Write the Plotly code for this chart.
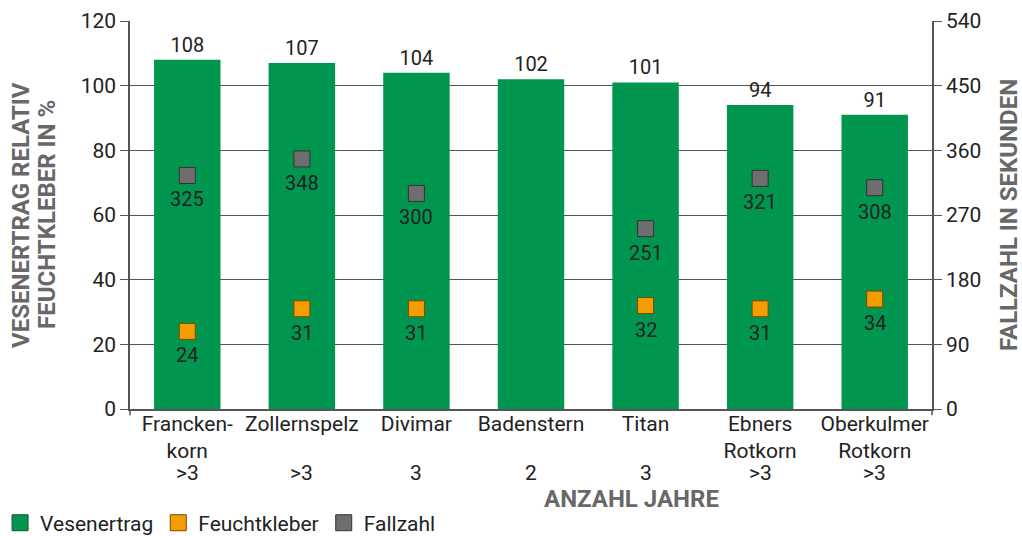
import plotly.graph_objects as go

categories = ["Francken-<br>korn", "Zollernspelz", "Divimar", "Badenstern", "Titan", "Ebners<br>Rotkorn", "Oberkulmer<br>Rotkorn"]
years = [">3", ">3", "3", "2", "3", ">3", ">3"]
vesenertrag = [108, 107, 104, 102, 101, 94, 91]
feuchtkleber = [24, 31, 31, None, 32, 31, 34]
fallzahl = [325, 348, 300, None, 251, 321, 308]

FONT = "Roboto"
TXT = "#222222"
AX = "#555555"
TITLE = "#686868"
GREEN = "#00964F"
ORANGE = "#F59C00"
GRAY = "#6E6E6E"
FS = 21
LFS = 20
TFS = 24

fig = go.Figure()
fig.add_trace(go.Bar(
    x=categories, y=vesenertrag, name="Vesenertrag", showlegend=False,
    marker=dict(color=GREEN, line=dict(width=0)),
    width=0.58,
    text=[str(v) for v in vesenertrag], textposition="outside",
    textfont=dict(size=LFS, color=TXT, family=FONT),
    cliponaxis=False,
))
fig.add_trace(go.Scatter(
    x=categories, y=feuchtkleber, name="Feuchtkleber", mode="markers", showlegend=False,
    marker=dict(symbol="square", size=16, color=ORANGE, line=dict(color="#7a4a00", width=1)),
    cliponaxis=False,
))
fig.add_trace(go.Scatter(
    x=categories, y=fallzahl, name="Fallzahl", mode="markers", yaxis="y2", showlegend=False,
    marker=dict(symbol="square", size=16, color=GRAY, line=dict(color="#333333", width=1)),
    cliponaxis=False,
))

# legend entries
for name, col, border in [("Vesenertrag", GREEN, "#1f4d2f"), ("Feuchtkleber", ORANGE, "#7a4a00"), ("Fallzahl", GRAY, "#333333")]:
    fig.add_trace(go.Scatter(
        x=[None], y=[None], mode="markers", name=name,
        marker=dict(symbol="square", size=16, color=col, line=dict(color=border, width=1)),
    ))

annotations = []
for c, v in zip(categories, feuchtkleber):
    if v is not None:
        annotations.append(dict(x=c, y=v, xref="x", yref="y", text=str(v), showarrow=False,
                                yshift=-24, font=dict(size=LFS, color=TXT, family=FONT)))
for c, v in zip(categories, fallzahl):
    if v is not None:
        annotations.append(dict(x=c, y=v, xref="x", yref="y2", text=str(v), showarrow=False,
                                yshift=-24, font=dict(size=LFS, color=TXT, family=FONT)))
# year row under category names
for c, yr in zip(categories, years):
    annotations.append(dict(x=c, y=(409 - 473) / 388, xref="x", yref="paper", text=yr,
                            showarrow=False, xanchor="center", yanchor="middle",
                            font=dict(size=FS, color=TXT, family=FONT)))

annotations += [
    dict(text="<b>ANZAHL JAHRE</b>", xref="paper", yref="paper", x=0.625, y=(409 - 499) / 388,
         xanchor="center", yanchor="middle",
         showarrow=False, font=dict(size=TFS, color=TITLE, family=FONT)),
    dict(text="<b>VESENERTRAG RELATIV</b>", xref="paper", yref="paper",
         x=(21 - 130) / 802, y=0.5, xanchor="center", yanchor="middle", textangle=-90, showarrow=False,
         font=dict(size=TFS, color=TITLE, family=FONT)),
    dict(text="<b>FEUCHTKLEBER IN %</b>", xref="paper", yref="paper",
         x=(47 - 130) / 802, y=0.5, xanchor="center", yanchor="middle", textangle=-90, showarrow=False,
         font=dict(size=TFS, color=TITLE, family=FONT)),
    dict(text="<b>FALLZAHL IN SEKUNDEN</b>", xref="paper", yref="paper",
         x=(1009 - 130) / 802, y=0.5, xanchor="center", yanchor="middle", textangle=-90, showarrow=False,
         font=dict(size=TFS, color=TITLE, family=FONT)),
]

fig.update_layout(
    width=1022, height=536,
    margin=dict(l=130, r=90, t=21, b=127, autoexpand=False),
    paper_bgcolor="white", plot_bgcolor="white",
    font=dict(family=FONT, size=FS, color=TXT),
    showlegend=True,
    legend=dict(orientation="h", x=-0.162, xanchor="left", y=-0.294, yanchor="middle",
                font=dict(size=FS, color=TXT, family=FONT), itemwidth=30,
                bgcolor="rgba(0,0,0,0)"),
    xaxis=dict(
        tickvals=categories, ticktext=categories, ticks="", ticklabelstandoff=-5,
        showline=True, linecolor=AX, linewidth=1.5,
        tickfont=dict(size=FS, color=TXT, family=FONT),
        range=[-0.5, 6.5],
    ),
    yaxis=dict(
        range=[0, 120], dtick=20, showgrid=True, gridcolor=AX, gridwidth=1.3,
        showline=True, linecolor=AX, linewidth=1.5, ticks="outside", ticklen=8,
        tickcolor=AX, tickwidth=1.3, tickfont=dict(size=FS, color=TXT, family=FONT),
        zeroline=False,
    ),
    yaxis2=dict(
        range=[0, 540], dtick=90, overlaying="y", side="right", showgrid=False,
        showline=True, linecolor=AX, linewidth=1.5, ticks="outside", ticklen=8,
        tickcolor=AX, tickwidth=1.3, tickfont=dict(size=FS, color=TXT, family=FONT),
        zeroline=False,
    ),
    annotations=annotations,
    shapes=[
        dict(type="line", xref="paper", yref="paper", x0=0, x1=0, y0=0, y1=-0.016,
             line=dict(color=AX, width=1.5)),
        dict(type="line", xref="paper", yref="paper", x0=1, x1=1, y0=0, y1=-0.016,
             line=dict(color=AX, width=1.5)),
    ],
)

fig.write_html("out.html", config={"displayModeBar": False},
               post_script="document.body.style.margin='0';document.body.style.overflow='hidden';")
